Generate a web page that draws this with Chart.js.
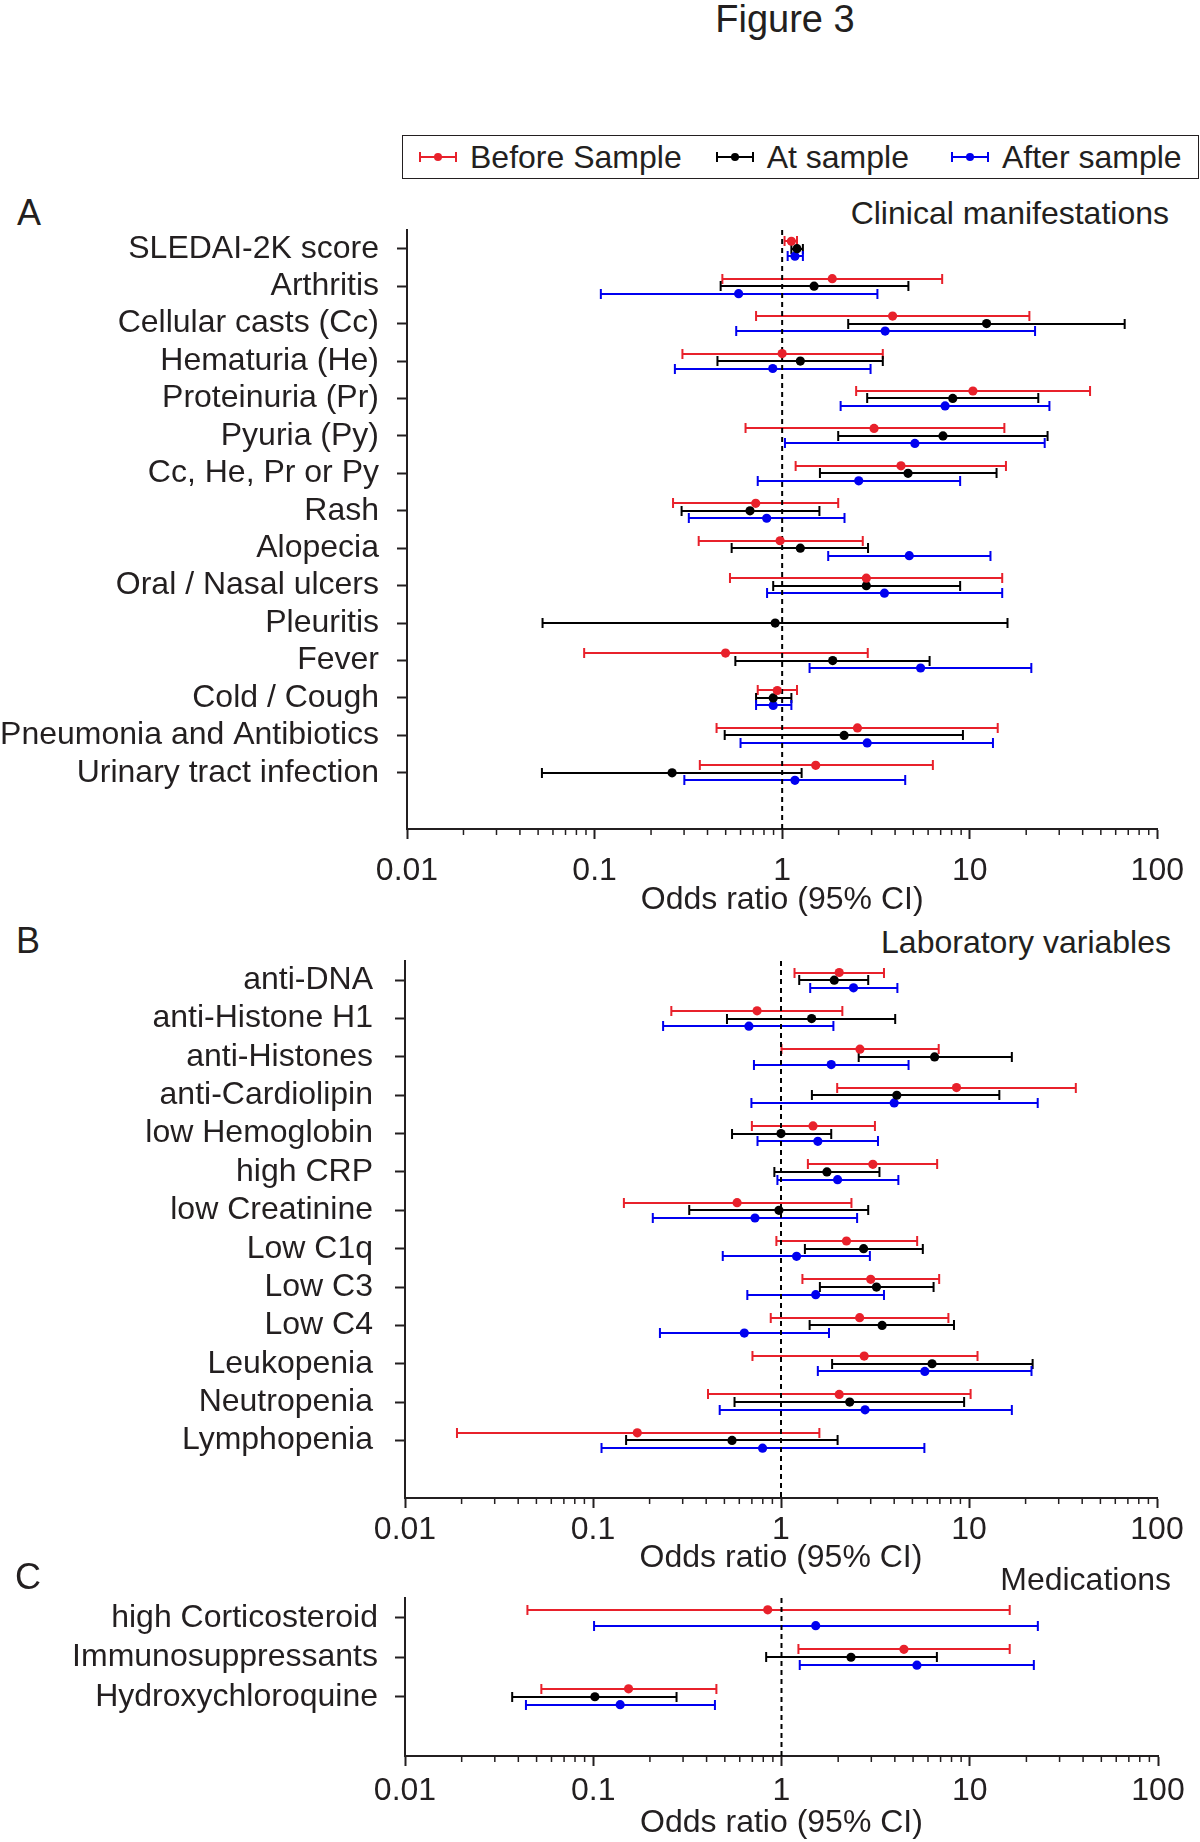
<!DOCTYPE html>
<html>
<head>
<meta charset="utf-8">
<title>Figure 3</title>
<script src="https://cdn.jsdelivr.net/npm/chart.js@4.4.1/dist/chart.umd.min.js"></script>
<style>
  html, body { margin: 0; padding: 0; background: #fff; }
  body { width: 1200px; height: 1842px; position: relative; overflow: hidden;
         font-family: "Liberation Sans", Arial, sans-serif; color: #231f20; }
  canvas { position: absolute; left: 0; }
  .txt { position: absolute; white-space: nowrap; line-height: 1; }
  .big { font-size: 36px; }
  .mid { font-size: 32px; }
  #legend { position: absolute; left: 402px; top: 135px; width: 797px; height: 44px;
            box-sizing: border-box; border: 1.5px solid #231f20; display: flex;
            align-items: center; padding-left: 16px; font-size: 32px; line-height: 1; }
  #legend .item { display: flex; align-items: center; }
  #legend svg { margin-right: 13px; }
</style>
</head>
<body>
<div class="txt" style="font-size:38px;left:785px;top:0px;transform:translateX(-50%)">Figure 3</div>
<div id="legend"></div>

<div class="txt big" style="left:17px;top:195px">A</div>
<div class="txt mid" style="right:31px;top:197px">Clinical manifestations</div>
<canvas id="panelA"></canvas>

<div class="txt big" style="left:16px;top:923px">B</div>
<div class="txt mid" style="right:29px;top:926px">Laboratory variables</div>
<canvas id="panelB"></canvas>

<div class="txt big" style="left:15px;top:1559px">C</div>
<div class="txt mid" style="right:29px;top:1563px">Medications</div>
<canvas id="panelC"></canvas>

<script>
// series
var seriesNames = ["Before Sample", "At sample", "After sample"];
var seriesColors = ["#e8212b", "#000000", "#0000f0"];

// x axis (odds ratio, log scale)
var xTicks = [0.01, 0.1, 1, 10, 100];
var xTickLabels = ["0.01", "0.1", "1", "10", "100"];
var refLine = 1;

// A - clinical manifestations, each row = [lower CI, odds ratio, upper CI]
var catsA = [
  "SLEDAI-2K score", "Arthritis", "Cellular casts (Cc)", "Hematuria (He)",
  "Proteinuria (Pr)", "Pyuria (Py)", "Cc, He, Pr or Py", "Rash", "Alopecia",
  "Oral / Nasal ulcers", "Pleuritis", "Fever", "Cold / Cough",
  "Pneumonia and Antibiotics", "Urinary tract infection"
];
var beforeA = [
  [1.03, 1.12, 1.20], [0.48, 1.85, 7.13], [0.726, 3.88, 20.8], [0.294, 1.0, 3.44],
  [2.48, 10.4, 43.8], [0.638, 3.09, 15.3], [1.18, 4.3, 15.6], [0.262, 0.723, 1.99],
  [0.359, 0.975, 2.69], [0.527, 2.81, 14.9], null, [0.088, 0.499, 2.86],
  [0.741, 0.942, 1.20], [0.447, 2.52, 14.1], [0.364, 1.51, 6.36]
];
var atA = [
  [1.12, 1.20, 1.29], [0.47, 1.48, 4.71], [2.25, 12.3, 67], [0.452, 1.25, 3.44],
  [2.84, 8.12, 23.2], [1.99, 7.2, 26.0], [1.59, 4.69, 13.9], [0.291, 0.674, 1.58],
  [0.538, 1.25, 2.87], [0.896, 2.81, 8.89], [0.0528, 0.918, 15.9], [0.563, 1.86, 6.11],
  [0.726, 0.896, 1.12], [0.494, 2.14, 9.2], [0.0524, 0.259, 1.27]
];
var afterA = [
  [1.07, 1.17, 1.29], [0.108, 0.586, 3.22], [0.569, 3.54, 22.3], [0.268, 0.891, 2.96],
  [2.05, 7.39, 26.6], [1.035, 5.1, 25.1], [0.741, 2.56, 8.89], [0.318, 0.827, 2.15],
  [1.76, 4.76, 12.9], [0.831, 3.51, 14.9], null, [1.40, 5.47, 21.3],
  [0.726, 0.896, 1.12], [0.60, 2.84, 13.3], [0.301, 1.17, 4.53]
];

// B - laboratory variables
var catsB = [
  "anti-DNA", "anti-Histone H1", "anti-Histones", "anti-Cardiolipin", "low Hemoglobin",
  "high CRP", "low Creatinine", "Low C1q", "Low C3", "Low C4", "Leukopenia",
  "Neutropenia", "Lymphopenia"
];
var beforeB = [
  [1.18, 2.04, 3.53], [0.261, 0.746, 2.12], [1.006, 2.63, 6.9], [1.99, 8.58, 37.0],
  [0.70, 1.48, 3.16], [1.39, 3.08, 6.77], [0.146, 0.584, 2.37], [0.945, 2.23, 5.30],
  [1.30, 3.0, 6.94], [0.882, 2.62, 7.77], [0.705, 2.77, 11.1], [0.409, 2.04, 10.2],
  [0.0189, 0.172, 1.60]
];
var atB = [
  [1.25, 1.92, 2.91], [0.516, 1.455, 4.05], [2.59, 6.56, 16.9], [1.46, 4.13, 14.5],
  [0.549, 1.0, 1.85], [0.922, 1.755, 3.34], [0.325, 0.975, 2.91], [1.34, 2.75, 5.68],
  [1.61, 3.22, 6.48], [1.42, 3.45, 8.32], [1.87, 6.36, 21.8], [0.566, 2.32, 9.42],
  [0.150, 0.549, 2.0]
];
var afterB = [
  [1.43, 2.43, 4.16], [0.236, 0.675, 1.90], [0.718, 1.85, 4.77], [0.696, 4.0, 23.2],
  [0.75, 1.57, 3.28], [0.957, 2.0, 4.21], [0.208, 0.727, 2.54], [0.49, 1.21, 2.97],
  [0.662, 1.53, 3.53], [0.227, 0.638, 1.80], [1.57, 5.82, 21.5], [0.472, 2.80, 16.9],
  [0.111, 0.798, 5.79]
];

// C - medications
var catsC = ["high Corticosteroid", "Immunosuppressants", "Hydroxychloroquine"];
var beforeC = [[0.0447, 0.845, 16.3], [1.23, 4.47, 16.3], [0.053, 0.154, 0.451]];
var atC = [null, [0.829, 2.34, 6.69], [0.0371, 0.102, 0.277]];
var afterC = [[0.101, 1.52, 23.0], [1.25, 5.24, 21.9], [0.0439, 0.139, 0.443]];

var ink = "#231f20";
var offsets = [-0.2, 0, 0.2];

Chart.defaults.font.family = '"Liberation Sans", Arial, sans-serif';
Chart.defaults.color = ink;

// whiskers with end caps, drawn under the dots
var errorBars = {
  id: "errorBars",
  beforeDatasetsDraw: function (chart) {
    var ctx = chart.ctx, x = chart.scales.x, y = chart.scales.y;
    chart.data.datasets.forEach(function (ds) {
      if (!ds.ci) return;
      ctx.save();
      ctx.strokeStyle = ds.borderColor;
      ctx.lineWidth = 2;
      ds.data.forEach(function (p) {
        var py = Math.round(y.getPixelForValue(p.y));
        var x0 = x.getPixelForValue(p.lo), x1 = x.getPixelForValue(p.hi);
        ctx.beginPath();
        ctx.moveTo(x0, py); ctx.lineTo(x1, py);
        ctx.moveTo(x0, py - 5); ctx.lineTo(x0, py + 5);
        ctx.moveTo(x1, py - 5); ctx.lineTo(x1, py + 5);
        ctx.stroke();
      });
      ctx.restore();
    });
  }
};

// short minor ticks 2..9 of every decade
var minorTicks = {
  id: "minorTicks",
  afterDraw: function (chart) {
    var ctx = chart.ctx, x = chart.scales.x;
    ctx.save();
    ctx.strokeStyle = ink;
    ctx.lineWidth = 1.5;
    xTicks.slice(0, -1).forEach(function (d) {
      for (var k = 2; k < 10; k++) {
        var px = x.getPixelForValue(d * k);
        ctx.beginPath();
        ctx.moveTo(px, x.top);
        ctx.lineTo(px, x.top + 6);
        ctx.stroke();
      }
    });
    ctx.restore();
  }
};

function makePanel(id, cats, groups, g) {
  var canvas = document.getElementById(id);
  canvas.width = 1200;
  canvas.height = 40 + (g.bottom - g.top) + g.axisH;
  canvas.style.top = (g.top - 40) + "px";

  var datasets = groups.map(function (rows, s) {
    return {
      label: seriesNames[s],
      ci: true,
      data: rows.map(function (r, i) {
        return r && { x: r[1], y: i + offsets[s], lo: r[0], hi: r[2] };
      }).filter(Boolean),
      borderColor: seriesColors[s],
      backgroundColor: seriesColors[s],
      pointRadius: 4.6,
      pointBorderWidth: 0
    };
  });
  datasets.push({
    label: "OR = 1",
    data: [{ x: refLine, y: -0.5 }, { x: refLine, y: cats.length + 0.5 }],
    showLine: true,
    borderColor: "#000",
    borderWidth: 2,
    borderDash: [5, 4],
    pointRadius: 0
  });

  return new Chart(canvas, {
    type: "scatter",
    data: { datasets: datasets },
    plugins: [errorBars, minorTicks],
    options: {
      responsive: false,
      animation: false,
      events: [],
      layout: { padding: { top: 40, right: g.rightPad, left: 0, bottom: 0 } },
      plugins: { legend: { display: false }, tooltip: { enabled: false } },
      scales: {
        x: {
          type: "logarithmic",
          min: 0.01,
          max: 100,
          afterBuildTicks: function (s) { s.ticks = xTicks.map(function (v) { return { value: v }; }); },
          afterFit: function (s) { s.height = g.axisH; },
          ticks: {
            callback: function (v, i) { return xTickLabels[i]; },
            font: { size: 32, lineHeight: 1 },
            padding: g.tickPad,
            color: ink,
            maxRotation: 0,
            autoSkip: false
          },
          grid: { drawOnChartArea: false, tickLength: 10, tickWidth: 2, tickColor: ink },
          border: { color: ink, width: 2 },
          title: {
            display: true,
            text: "Odds ratio (95% CI)",
            font: { size: 32, lineHeight: 1 },
            color: ink,
            padding: { top: 0, bottom: 0 }
          }
        },
        y: {
          type: "linear",
          reverse: true,
          min: -0.5,
          max: cats.length + 0.5,
          afterBuildTicks: function (s) { s.ticks = cats.map(function (c, i) { return { value: i }; }); },
          afterFit: function (s) { s.width = g.left; },
          ticks: {
            callback: function (v) { return cats[v]; },
            font: { size: 32, lineHeight: 1 },
            padding: g.labelPad,
            color: ink,
            autoSkip: false
          },
          grid: { drawOnChartArea: false, tickLength: 10, tickWidth: 2, tickColor: ink },
          border: { color: ink, width: 2 }
        }
      }
    }
  });
}

makePanel("panelA", catsA, [beforeA, atA, afterA],
  { left: 407, rightPad: 41, top: 230, bottom: 829, axisH: 87, tickPad: 16, labelPad: 18 });
makePanel("panelB", catsB, [beforeB, atB, afterB],
  { left: 405, rightPad: 43, top: 961, bottom: 1498, axisH: 76, tickPad: 6, labelPad: 22 });
makePanel("panelC", catsC, [beforeC, atC, afterC],
  { left: 405, rightPad: 42, top: 1598, bottom: 1756, axisH: 83, tickPad: 9, labelPad: 17 });

// legend built from the series
var legend = document.getElementById("legend");
var gaps = [0, 34, 42];
seriesNames.forEach(function (name, s) {
  var c = seriesColors[s];
  var item = document.createElement("div");
  item.className = "item";
  item.style.marginLeft = gaps[s] + "px";
  item.innerHTML =
    '<svg width="38" height="16" viewBox="0 0 38 16">' +
    '<path d="M1 8H37M1 3V13M37 3V13" stroke="' + c + '" stroke-width="2" fill="none"/>' +
    '<circle cx="19" cy="8" r="4" fill="' + c + '"/></svg>' +
    '<span>' + name + '</span>';
  legend.appendChild(item);
});
</script>
</body>
</html>
